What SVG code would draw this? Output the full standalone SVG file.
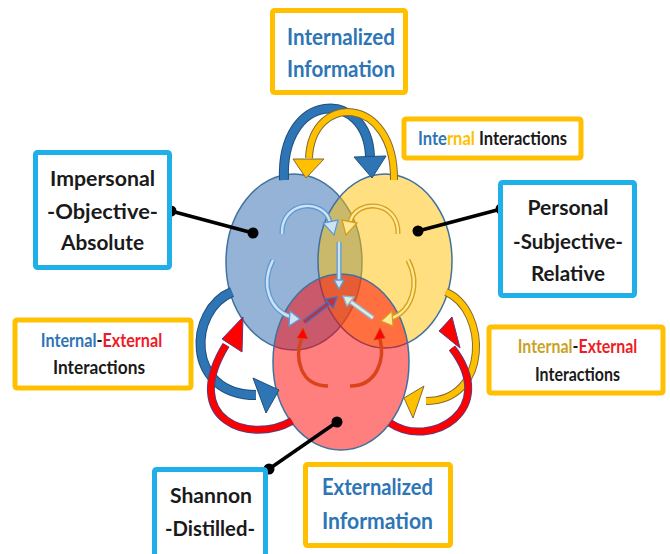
<svg xmlns="http://www.w3.org/2000/svg" width="670" height="554" viewBox="0 0 670 554">
<style>
text{font-family:Lato,"Open Sans","Liberation Sans",sans-serif;font-weight:700;text-anchor:middle}
.yb{fill:#fff;stroke:#ffc000;stroke-width:5}
.bb{fill:#fff;stroke:#1fb0ea;stroke-width:5}
.bl{fill:#2e75b6}
.bk{fill:#1a1a1a}
.rd{fill:#ee1c25}
.gd{fill:#ffc000}
.og{fill:#c9a227}
.circ{stroke:#41719c;stroke-width:1.5}
.bo{fill:none;stroke:#1f4e79;stroke-width:10}
.bi{fill:none;stroke:#2e75b6;stroke-width:8}
.yo{fill:none;stroke:#7f6a3a;stroke-width:8}
.yi{fill:none;stroke:#ffc000;stroke-width:6}
.ro{fill:none;stroke:#5c3a80;stroke-width:8}
.ri{fill:none;stroke:#ff0000;stroke-width:6}
.bh{fill:#2e75b6;stroke:#1f4e79;stroke-width:1}
.yh{fill:#ffc000;stroke:#7f6a3a;stroke-width:1}
.rh{fill:#ff0000;stroke:#5c3a80;stroke-width:1}
.ho{fill:none;stroke:#5b9bd5;stroke-width:5}
.hi{fill:none;stroke:#cfe2f3;stroke-width:2.4}
.hho{fill:#cfe2f3;stroke:#5b9bd5;stroke-width:1.3}
.yso{fill:none;stroke:#d4a017;stroke-width:5}
.ysi{fill:none;stroke:#ffe699;stroke-width:2.4}
.ysh{fill:#ffe699;stroke:#d4a017;stroke-width:1.3}
.con{stroke:#000;stroke-width:3.5;fill:none}
</style>

<g id="circles">
  <ellipse class="circ" cx="294" cy="262" rx="68" ry="88" fill="#4f81bd" fill-opacity="0.6"/>
  <ellipse class="circ" cx="385" cy="261" rx="67" ry="87" fill="#ffc000" fill-opacity="0.5"/>
  <ellipse class="circ" cx="341" cy="362" rx="68" ry="88" fill="#ff0000" fill-opacity="0.5"/>
</g>

<g id="connectors">
  <!-- top internal thick arcs -->
  <path class="bo" d="M284 180 C280 90 368 88 370 157"/>
  <path class="bi" d="M284 180 C280 90 368 88 370 157"/>
  <polygon class="bh" points="354,157 386,156 372,178"/>
  <path class="yo" d="M394 180 C395 95 312 92 309 158"/>
  <path class="yi" d="M394 180 C395 95 312 92 309 158"/>
  <polygon class="yh" points="293,159 324,159 306,178"/>

  <!-- left outer arcs -->
  <path class="bo" d="M232 292 C188 310 185 395 256 395"/>
  <path class="bi" d="M232 292 C188 310 185 395 256 395"/>
  <polygon class="bh" points="253,378 266,413 279,390"/>
  <path class="ro" d="M292 421 C250 445 180 420 226 345"/>
  <path class="ri" d="M292 421 C250 445 180 420 226 345"/>
  <polygon class="rh" points="222,339 242,352 243,317"/>

  <!-- right outer arcs -->
  <path class="yo" d="M446 292 C488 310 490 401 426 401"/>
  <path class="yi" d="M446 292 C488 310 490 401 426 401"/>
  <polygon class="yh" points="424,386 413,418 404,398"/>
  <path class="ro" d="M390 423 C430 450 500 410 452 348"/>
  <path class="ri" d="M390 423 C430 450 500 410 452 348"/>
  <polygon class="rh" points="439,331 460,348 452,317"/>

  <!-- inner hollow arrows -->
  <path class="ho" d="M282 234 C281 200 324 198 330 222"/>
  <path class="hi" d="M282 234 C281 200 324 198 330 222"/>
  <polygon class="hho" points="323,223 338,220 334,235"/>
  <path class="yso" d="M398 234 C399 200 356 198 350 222"/>
  <path class="ysi" d="M398 234 C399 200 356 198 350 222"/>
  <polygon class="ysh" points="342,220 357,223 346,235"/>

  <path class="ho" d="M273 260 C260 285 270 310 291 317"/>
  <path class="hi" d="M273 260 C260 285 270 310 291 317"/>
  <polygon class="hho" points="290,311 289,326 300,319"/>
  <path class="yso" d="M408 260 C421 285 411 311 392 318"/>
  <path class="ysi" d="M408 260 C421 285 411 311 392 318"/>
  <polygon class="ysh" points="392,311 393,326 381,321"/>

  <path class="ho" d="M339 242 L339 281"/>
  <path class="hi" d="M339 242 L339 281"/>
  <polygon class="hho" points="334,280 344,280 339,289"/>

  <path fill="none" stroke="#4472c4" stroke-width="5" d="M304 322 L329 303"/>
  <path fill="none" stroke="#c0303a" stroke-width="2.4" d="M304 322 L329 303"/>
  <polygon fill="#c0303a" stroke="#4472c4" stroke-width="1.3" points="325,299 333,308 337,297"/>
  <path fill="none" stroke="#8fb4d9" stroke-width="5" d="M373 318 L351 302"/>
  <path fill="none" stroke="#e2efda" stroke-width="2.4" d="M373 318 L351 302"/>
  <polygon fill="#e2efda" stroke="#8fb4d9" stroke-width="1.3" points="354,297 347,306 343,296"/>

  <path fill="none" stroke="#d9441a" stroke-width="3.5" d="M328 386 C300 386 294 358 302 337"/>
  <polygon fill="#ff0000" stroke="#d9441a" stroke-width="1" points="297,338 308,339 303,328"/>
  <path fill="none" stroke="#d9441a" stroke-width="3.5" d="M350 386 C378 386 385 358 380 339"/>
  <polygon fill="#ff0000" stroke="#d9441a" stroke-width="1" points="374,340 385,338 380,328"/>

  <!-- label connectors -->
  <line class="con" x1="171" y1="211" x2="253" y2="233"/>
  <circle cx="171" cy="211" r="5.5"/>
  <circle cx="253" cy="233" r="5.5"/>
  <line class="con" x1="501" y1="209" x2="418" y2="231"/>
  <circle cx="501" cy="209" r="5.5"/>
  <circle cx="418" cy="231" r="5.5"/>
  <line class="con" x1="269" y1="469" x2="337" y2="422"/>
  <circle cx="269" cy="469" r="5.5"/>
  <circle cx="337" cy="422" r="5.5"/>
</g>

<g id="internalized">
  <rect class="yb" x="272.5" y="10.5" width="133" height="82" rx="2"/>
  <text class="bl" x="341" y="45" font-size="22" textLength="108" lengthAdjust="spacingAndGlyphs">Internalized</text>
  <text class="bl" x="341" y="77" font-size="22" textLength="108" lengthAdjust="spacingAndGlyphs">Information</text>
</g>

<g id="internal-interactions">
  <rect class="yb" x="404" y="119" width="177" height="39" rx="2" stroke-width="4"/>
  <text transform="translate(492.5 145) scale(0.92 1)" font-size="18"><tspan class="bl">Inte</tspan><tspan class="gd">rnal</tspan><tspan class="bk"> Interactions</tspan></text>
</g>

<g id="impersonal">
  <rect class="bb" x="35.5" y="152.5" width="134" height="115" rx="2"/>
  <text class="bk" x="102.5" y="186" font-size="21" textLength="105" lengthAdjust="spacingAndGlyphs">Impersonal</text>
  <text class="bk" x="102.5" y="219" font-size="21" textLength="111" lengthAdjust="spacingAndGlyphs">-Objective-</text>
  <text class="bk" x="102.5" y="250" font-size="21" textLength="83" lengthAdjust="spacingAndGlyphs">Absolute</text>
</g>

<g id="personal">
  <rect class="bb" x="500.5" y="182.5" width="134" height="113" rx="2"/>
  <text class="bk" x="568" y="215" font-size="21" textLength="81" lengthAdjust="spacingAndGlyphs">Personal</text>
  <text class="bk" x="568" y="249" font-size="21" textLength="110" lengthAdjust="spacingAndGlyphs">-Subjective-</text>
  <text class="bk" x="568" y="281" font-size="21" textLength="74" lengthAdjust="spacingAndGlyphs">Relative</text>
</g>

<g id="ie-left">
  <rect class="yb" x="15" y="320" width="176" height="68" rx="2" stroke-width="4"/>
  <text transform="translate(101.5 347) scale(0.852 1)" font-size="19"><tspan class="bl">Internal</tspan><tspan class="bk">-</tspan><tspan class="rd">External</tspan></text>
  <text class="bk" x="99" y="374" font-size="19" textLength="92" lengthAdjust="spacingAndGlyphs">Interactions</text>
</g>

<g id="ie-right">
  <rect class="yb" x="489" y="327" width="174" height="66" rx="2" stroke-width="4"/>
  <text transform="translate(577.5 353) scale(0.838 1)" font-size="19"><tspan class="og">Internal</tspan><tspan class="bk">-</tspan><tspan class="rd">External</tspan></text>
  <text class="bk" x="577.5" y="381" font-size="19" textLength="85" lengthAdjust="spacingAndGlyphs">Interactions</text>
</g>

<g id="shannon">
  <rect class="bb" x="154.5" y="469.5" width="111" height="92" rx="2"/>
  <text class="bk" x="211" y="503" font-size="21" textLength="82" lengthAdjust="spacingAndGlyphs">Shannon</text>
  <text class="bk" x="210" y="536" font-size="21" textLength="90" lengthAdjust="spacingAndGlyphs">-Distilled-</text>
</g>

<g id="externalized">
  <rect class="yb" x="305.5" y="464.5" width="145" height="81" rx="2"/>
  <text class="bl" x="377.5" y="495" font-size="22" textLength="111" lengthAdjust="spacingAndGlyphs">Externalized</text>
  <text class="bl" x="377.5" y="529" font-size="22" textLength="111" lengthAdjust="spacingAndGlyphs">Information</text>
</g>
</svg>
